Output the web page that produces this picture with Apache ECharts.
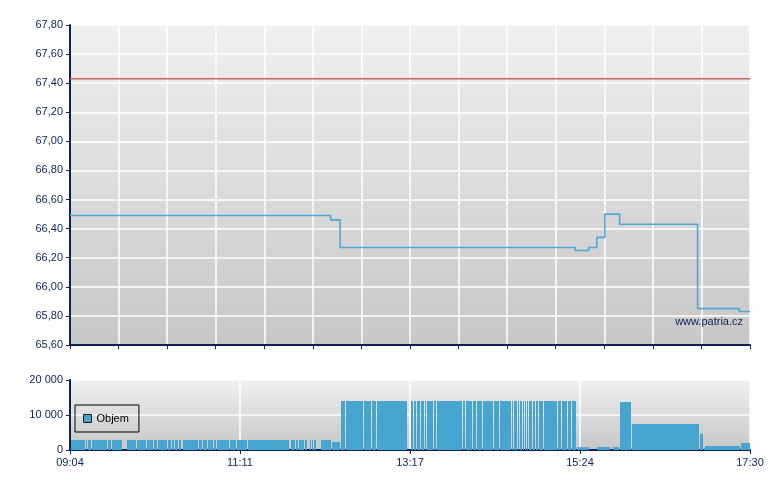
<!DOCTYPE html>
<html>
<head>
<meta charset="utf-8">
<script src="https://cdn.jsdelivr.net/npm/echarts@6/dist/echarts.min.js"></script>
<style>html,body{margin:0;padding:0;background:#fff}#c{width:780px;height:490px}</style>
</head>
<body>
<div id="c"></div>
<script>
// ---- data ----
var sessionOpen = "09:04";
var sessionClose = "17:30";
var xTickLabels = ["09:04", "11:11", "13:17", "15:24", "17:30"];
// price (step line): value holds from this time until the next
var priceTimes = ["09:04","12:18","12:25","15:20","15:30","15:36","15:42","15:53","16:51","17:22","17:30"];
var priceValues = [66.49, 66.46, 66.27, 66.25, 66.27, 66.34, 66.50, 66.43, 65.85, 65.83, 65.83];
// reference (previous close) line
var refValue = 67.43;
// volume: segment edges in minutes after open, one value per segment (0 = no trades)
var volEdges = [0,11.2,12.4,15.9,27.6,30.3,39.0,41.7,49.2,56.6,61.8,64.8,72.3,75.3,77.5,80.3,82.7,83.7,
  95.4,98.1,102.1,106.6,108.6,118.5,123.7,131.9,163.2,163.9,167.7,169.7,173.8,176.6,178.1,179.4,180.6,181.8,183.1,186.3,
  194.5,201.2,204.7,217.8,223.8,227.5,250.4,253.1,255.1,257.8,260.3,263.3,264.8,270.0,272.5,291.4,293.8,299.0,302.3,
  306.5,314.5,318.9,328.1,329.4,332.6,334.1,336.1,337.6,339.6,341.1,343.7,345.8,348.5,352.2,362.2,365.6,370.1,373.1,
  376.3,386.0,391.7,401.6,403.1,408.3,417.8,467.7,470.7,471.7,498.5,506];
var volValues = [2850,2850,2850,2850,2850,2850,0,2850,2850,2850,2850,2850,2850,2850,2850,2850,0,
  2850,2850,2850,2850,2850,2850,2850,2850,2850,0,2850,2850,2850,2850,0,2850,2850,2850,2850,0,
  2850,2300,14000,14000,14000,14000,14000,0,14000,14000,14000,14000,14000,14000,14000,14000,14000,14000,14000,14000,
  14000,14000,14000,14000,14000,14000,14000,14000,14000,14000,14000,14000,14000,14000,14000,14000,14000,14000,14000,
  800,0,850,0,850,13700,7430,4660,600,1140,2000];

// ---- helpers ----
function toMin(s){var p=s.split(':');return (+p[0])*60+(+p[1]);}
var openMin = toMin(sessionOpen), span = toMin(sessionClose) - openMin;
function toClock(off){var m=Math.round(openMin+off);var h=Math.floor(m/60),mm=m%60;return (h<10?'0':'')+h+':'+(mm<10?'0':'')+mm;}

var priceData = priceTimes.map(function(t,i){return [toMin(t)-openMin, priceValues[i]];});
var refData = [[0, refValue],[span, refValue]];
var volData = volValues.map(function(v,i){return [volEdges[i], volEdges[i+1], v];});

var navy = '#0c2356';
var font = 'Liberation Sans, Arial, sans-serif';
function bg(){return new echarts.graphic.LinearGradient(0,0,0,1,[{offset:0,color:'#f0f0f0'},{offset:1,color:'#c7c7c7'}]);}

var chart = echarts.init(document.getElementById('c'), null, {renderer:'canvas'});
chart.setOption({
  animation:false,
  backgroundColor:'#ffffff',
  grid:[
    {left:70, top:25, width:680, height:320, show:true, backgroundColor:bg(), borderWidth:0},
    {left:70, top:380, width:680, height:70, show:true, backgroundColor:bg(), borderWidth:0}
  ],
  legend:{
    left:75, top:405, padding:[8,10,8,8], borderColor:'#000', borderWidth:1,
    itemWidth:8, itemHeight:8, itemGap:5,
    textStyle:{color:'#000', fontSize:11, fontFamily:font},
    data:[{name:'Objem', icon:'rect', itemStyle:{color:'#45a5cf', borderColor:'#1a1a1a', borderWidth:1}}]
  },
  xAxis:[
    {type:'value', gridIndex:0, min:0, max:span, interval:span/14,
     axisLine:{lineStyle:{color:navy, width:2}},
     axisTick:{show:true, length:4, lineStyle:{color:navy, width:1}},
     axisLabel:{show:false},
     splitLine:{show:true, lineStyle:{color:'#ffffff', width:1.5}}},
    {type:'value', gridIndex:1, min:0, max:span, interval:span/4,
     axisLine:{lineStyle:{color:navy, width:2}},
     axisTick:{show:true, length:4, lineStyle:{color:navy, width:1}},
     axisLabel:{show:true, margin:7, color:navy, fontSize:11, fontFamily:font, showMinLabel:true, showMaxLabel:true,
       formatter:function(v){return toClock(v);}},
     splitLine:{show:true, lineStyle:{color:'#ffffff', width:1.5}}}
  ],
  yAxis:[
    {type:'value', gridIndex:0, min:65.6, max:67.8, interval:0.2,
     axisLine:{show:true, lineStyle:{color:navy, width:2}},
     axisTick:{show:true, length:4, lineStyle:{color:navy, width:1}},
     axisLabel:{margin:7, color:navy, fontSize:11, fontFamily:font,
       formatter:function(v){return v.toFixed(2).replace('.',',');}},
     splitLine:{show:true, lineStyle:{color:'#ffffff', width:1.5}}},
    {type:'value', gridIndex:1, min:0, max:20000, interval:10000,
     axisLine:{show:true, lineStyle:{color:navy, width:2}},
     axisTick:{show:true, length:4, lineStyle:{color:navy, width:1}},
     axisLabel:{margin:7, color:navy, fontSize:11, fontFamily:font,
       formatter:function(v){return String(Math.round(v)).replace(/\B(?=(\d{3})+(?!\d))/g,' ');}},
     splitLine:{show:true, lineStyle:{color:'#ffffff', width:1.5}}}
  ],
  series:[
    {type:'line', name:'ref', xAxisIndex:0, yAxisIndex:0, data:refData, showSymbol:false, silent:true,
     lineStyle:{color:'#c85858', width:1.5, opacity:0.9}},
    {type:'line', name:'Cena', xAxisIndex:0, yAxisIndex:0, data:priceData, step:'end', showSymbol:false,
     lineStyle:{color:'#4ea7d4', width:1.6}},
    {type:'custom', name:'Objem', xAxisIndex:1, yAxisIndex:1, data:volData, clip:true,
     itemStyle:{color:'#45a5cf'},
     encode:{x:[0,1], y:2},
     renderItem:function(params, api){
       var v = api.value(2);
       if (!v) return null;
       var p0 = api.coord([api.value(0), v]);
       var p1 = api.coord([api.value(1), 0]);
       var x0 = Math.round(p0[0]) + 1, x1 = Math.round(p1[0]);
       return {type:'rect', shape:{x:x0, y:p0[1], width:Math.max(1, x1-x0), height:p1[1]-p0[1]},
               style:{fill:'#45a5cf'}};
     }}
  ],
  graphic:[
    {type:'text', right:37, top:316, z:10,
     style:{text:'www.patria.cz', fill:navy, font:'11px ' + font}}
  ]
});
</script>
</body>
</html>
